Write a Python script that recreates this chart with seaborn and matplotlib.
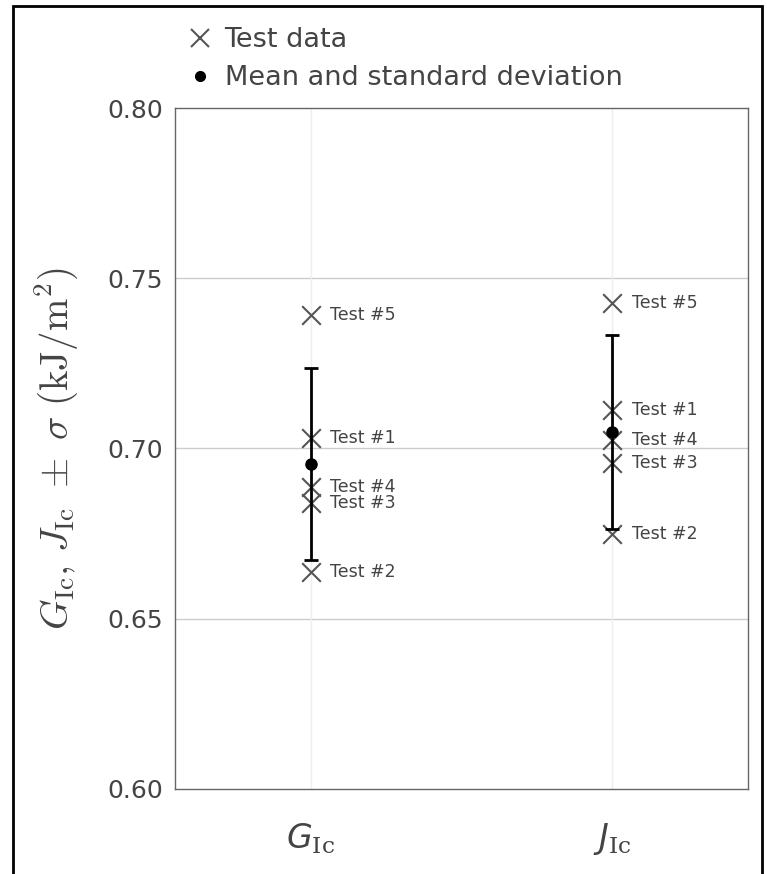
import numpy as np
import pandas as pd
import matplotlib
matplotlib.use("Agg")
import matplotlib.pyplot as plt
import matplotlib.patches as mpatches
from matplotlib.lines import Line2D
import seaborn as sns

# ----------------------
# Data
# ----------------------
categories = ["G", "J"]
cat_labels = [r"$G_{\mathrm{Ic}}$", r"$J_{\mathrm{Ic}}$"]
test_names = ["Test #1", "Test #2", "Test #3", "Test #4", "Test #5"]
g_tests = [0.7031, 0.6637, 0.6840, 0.6887, 0.7392]
j_tests = [0.7113, 0.6749, 0.6957, 0.7025, 0.7427]
means = [0.6954, 0.7048]
stds = [0.0282, 0.0285]

df = pd.DataFrame({
    "cat": [0] * len(g_tests) + [1] * len(j_tests),
    "value": g_tests + j_tests,
    "name": test_names + test_names,
})

# ----------------------
# Style
# ----------------------
sns.set_style("white")
plt.rcParams["font.family"] = ["DejaVu Sans"]
plt.rcParams["mathtext.fontset"] = "custom"
plt.rcParams["mathtext.it"] = "DejaVu Sans:italic"
plt.rcParams["mathtext.rm"] = "DejaVu Serif"

text_col = "#444444"
fig = plt.figure(figsize=(7.67, 8.74), dpi=100)
ax = fig.add_axes([0.228, 0.0973, 0.747, 0.7791])

# grid
for y in [0.65, 0.70, 0.75]:
    ax.axhline(y, color="#cccccc", lw=1, zorder=0)
for x in [0, 1]:
    ax.axvline(x, color="#eeeeee", lw=1, zorder=0)

# test data crosses
sns.scatterplot(data=df, x="cat", y="value", marker="x", s=180, color="#555555",
                linewidth=1.5, ax=ax, zorder=3, legend=False)

for _, r in df.iterrows():
    ax.annotate(r["name"], (r["cat"], r["value"]), xytext=(14, 0),
                textcoords="offset points", va="center", ha="left",
                fontsize=12.5, color=text_col)

# mean and std
ax.errorbar([0, 1], means, yerr=stds, fmt="o", color="black", ms=8,
            elinewidth=2, capsize=5, capthick=2, zorder=4)

ax.set_xlim(-0.45, 1.45)
ax.set_ylim(0.60, 0.80)
ax.set_yticks([0.60, 0.65, 0.70, 0.75, 0.80])
ax.set_yticklabels([f"{v:.2f}" for v in [0.60, 0.65, 0.70, 0.75, 0.80]],
                   fontsize=18, color=text_col)
ax.set_xticks([0, 1])
ax.set_xticklabels(cat_labels, fontsize=24, color=text_col)
ax.tick_params(axis="both", direction="out", length=5, width=1, color="#666666")
ax.tick_params(axis="x", pad=16, length=7)
ax.set_xlabel("")

for sp in ax.spines.values():
    sp.set_color("#666666")
    sp.set_linewidth(1)

ax.set_ylabel(r"$G_{\rm Ic},\, J_{\rm Ic}\ \pm\ \sigma\ (\rm kJ/m^2)$",
              fontsize=28, color=text_col, math_fontfamily="cm")
ax.yaxis.set_label_coords(-0.165, 0.5)

# legend
handles = [
    Line2D([], [], marker="x", ls="none", color="#555555", ms=13, mew=1.5),
    Line2D([], [], marker="o", ls="none", color="black", ms=7),
]
fig.legend(handles, ["Test data", "Mean and standard deviation"],
           loc="upper left", bbox_to_anchor=(0.208, 0.997), frameon=False,
           fontsize=19.5, labelcolor=text_col, handletextpad=0.3,
           labelspacing=0.45, handlelength=1.2)

# outer frame
fig.patches.append(mpatches.Rectangle((13 / 767, -0.01), (762 - 13) / 767, 1 - 6 / 874 + 0.01,
                                      transform=fig.transFigure, fill=False,
                                      edgecolor="black", lw=2))

fig.savefig("out.png", dpi=100)
